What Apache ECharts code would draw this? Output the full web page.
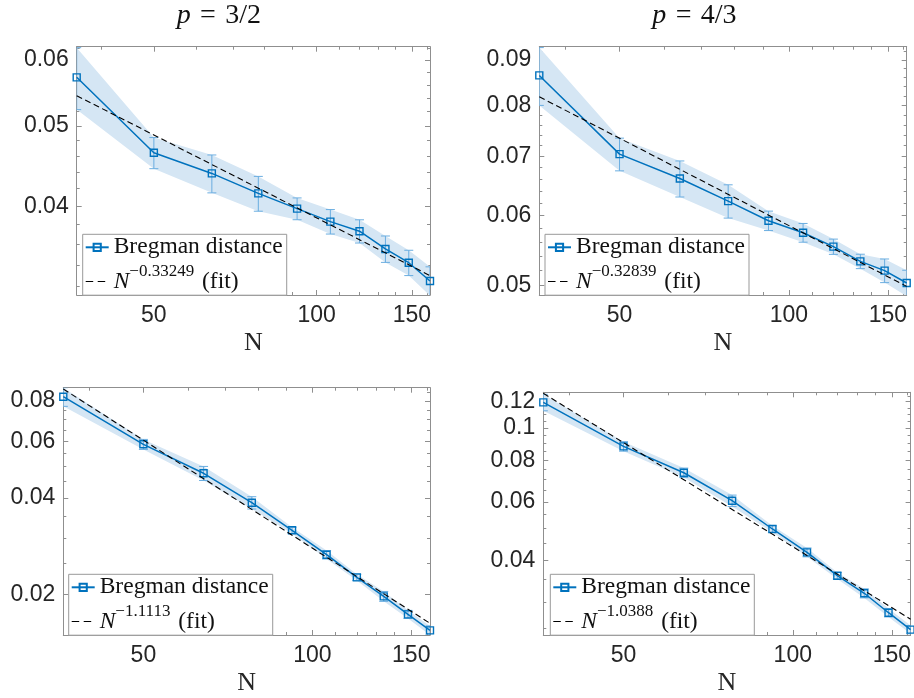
<!DOCTYPE html>
<html><head><meta charset="utf-8">
<script src="https://cdn.jsdelivr.net/npm/echarts@6/dist/echarts.min.js"></script>
<style>html,body{margin:0;padding:0;background:#fff}#c{width:914px;height:698px}</style>
</head><body><div id="c"></div>
<script>
// ---------- data ----------
const N = [36, 50, 64, 78, 92, 106, 120, 134, 148, 162];
const xRange = [36, 162];
const xMajorTicks = [50, 100, 150];
const xMinorTicks = [40, 60, 70, 80, 90, 110, 120, 130, 140, 160];

const titleTL = '3/2';
const titleTR = '4/3';

// top-left  (p = 3/2)
const meanTL = [0.05719, 0.04639, 0.04381, 0.04145, 0.03973, 0.03833, 0.03732, 0.03553, 0.0342, 0.03251];
const errTL  = [0.0049, 0.0020, 0.0023, 0.0020, 0.0012, 0.0013, 0.0012, 0.0013, 0.0012, 0.0013];
const fitTL  = [[36, 0.05435], [162, 0.0330]];
const expTL  = '\u22120.33249';
const yRangeTL = [0.03127, 0.06226];
const yTicksTL = [0.04, 0.05, 0.06];
const yMinorTL = [0.032, 0.034, 0.036, 0.038, 0.042, 0.044, 0.046, 0.048, 0.052, 0.054, 0.056, 0.058, 0.062];

// top-right (p = 4/3)
const meanTR = [0.08648, 0.07044, 0.0661, 0.06233, 0.05922, 0.0574, 0.05535, 0.05327, 0.052, 0.05035];
const errTR  = [0.0065, 0.0030, 0.0031, 0.0027, 0.0015, 0.0014, 0.0011, 0.0010, 0.0016, 0.0017];
const fitTR  = [[36, 0.08179], [162, 0.04991]];
const expTR  = '\u22120.32839';
const yRangeTR = [0.0488, 0.0932];
const yTicksTR = [0.05, 0.06, 0.07, 0.08, 0.09];
const yMinorTR = [0.052, 0.054, 0.056, 0.058, 0.062, 0.064, 0.066, 0.068, 0.072, 0.074, 0.076, 0.078, 0.082, 0.084, 0.086, 0.088, 0.092];

// bottom-left
const meanBL = [0.0825, 0.05868, 0.04769, 0.03863, 0.03171, 0.02663, 0.02265, 0.01977, 0.01738, 0.0155];
const errBL  = [0.0055, 0.0021, 0.0024, 0.0017, 0.0007, 0.0008, 0.0005, 0.0007, 0.0005, 0.0005];
const fitBL  = [[36, 0.08718], [162, 0.0163]];
const expBL  = '\u22121.1113';
const yRangeBL = [0.01499, 0.088];
const yTicksBL = [0.02, 0.04, 0.06, 0.08];
const yMinorBL = [0.015, 0.025, 0.03, 0.035, 0.045, 0.05, 0.055, 0.065, 0.07, 0.075, 0.085];

// bottom-right
const meanBR = [0.1195, 0.0881, 0.07337, 0.06044, 0.04969, 0.04227, 0.03595, 0.03183, 0.02782, 0.02474];
const errBR  = [0.0068, 0.0029, 0.0024, 0.0024, 0.0011, 0.0013, 0.0008, 0.0010, 0.0008, 0.0007];
const fitBR  = [[36, 0.1272], [162, 0.0266]];
const expBR  = '\u22121.0388';
const yRangeBR = [0.02384, 0.1281];
const yTicksBR = [0.04, 0.06, 0.08, 0.1, 0.12];
const yMinorBR = [0.025, 0.03, 0.035, 0.045, 0.05, 0.055, 0.065, 0.07, 0.075, 0.085, 0.09, 0.095, 0.105, 0.11, 0.115, 0.125];

// ---------- layout / style ----------
const BLUE = '#0072BD', BAND = '#d5e6f4', EBAR = '#6aade0', AXIS = '#8f8f8f', TXT = '#262626';
const SANS = 'Liberation Sans', SERIF = 'Liberation Serif';

const panels = [
  {mean: meanTL, err: errTL, fit: fitTL, exp: expTL, yRange: yRangeTL, yTicks: yTicksTL, yMinor: yMinorTL,
   grid: {left: 76.7, top: 46.7, width: 353.3, height: 248.3}, legend: {left: 82.7, top: 234.3}},
  {mean: meanTR, err: errTR, fit: fitTR, exp: expTR, yRange: yRangeTR, yTicks: yTicksTR, yMinor: yMinorTR,
   grid: {left: 539.3, top: 46.7, width: 367.4, height: 248.3}, legend: {left: 545, top: 234.3}},
  {mean: meanBL, err: errBL, fit: fitBL, exp: expBL, yRange: yRangeBL, yTicks: yTicksBL, yMinor: yMinorBL,
   grid: {left: 63.3, top: 387.7, width: 366.7, height: 247.3}, legend: {left: 68.7, top: 574.3}},
  {mean: meanBR, err: errBR, fit: fitBR, exp: expBR, yRange: yRangeBR, yTicks: yTicksBR, yMinor: yMinorBR,
   grid: {left: 543.3, top: 392.3, width: 367.4, height: 242.7}, legend: {left: 550.3, top: 574.3}}
];

function axesFor(gi, isX, range, major, minor, fmt) {
  const lineStyle = {color: AXIS, width: 1};
  const base = {type: 'log', gridIndex: gi, min: range[0], max: range[1],
    splitLine: {show: false}, minorTick: {show: false}, minorSplitLine: {show: false}};
  const posMain = isX ? 'bottom' : 'left', posOpp = isX ? 'top' : 'right';
  const main = Object.assign({}, base, {
    position: posMain,
    axisLine: {show: true, onZero: false, lineStyle},
    axisTick: {show: true, inside: true, length: 5, customValues: major, lineStyle},
    axisLabel: {show: true, customValues: major, formatter: fmt, fontFamily: SANS, fontSize: 23,
      color: TXT, margin: isX ? 9 : 8}
  });
  if (isX) {
    main.name = 'N';
    main.nameLocation = 'middle';
    main.nameGap = 35;
    main.nameTextStyle = {fontFamily: SERIF, fontSize: 26, color: TXT};
  }
  const minorMain = Object.assign({}, base, {position: posMain, axisLine: {show: false},
    axisTick: {show: true, inside: true, length: 3, customValues: minor, lineStyle}, axisLabel: {show: false}});
  const opp = Object.assign({}, base, {position: posOpp, axisLine: {show: true, onZero: false, lineStyle},
    axisTick: {show: true, inside: true, length: 5, customValues: major, lineStyle}, axisLabel: {show: false}});
  const minorOpp = Object.assign({}, base, {position: posOpp, axisLine: {show: false},
    axisTick: {show: true, inside: true, length: 3, customValues: minor, lineStyle}, axisLabel: {show: false}});
  return [main, minorMain, opp, minorOpp];
}

const xFmt = v => String(Math.round(v));
const yFmt = v => String(+(+v).toPrecision(4));

function titleText(x, t) {
  return {type: 'text', x: x, y: 15.5, style: {text: '{i|p}\u2004=\u2004' + t, align: 'left', verticalAlign: 'middle',
    fontFamily: SERIF, fontSize: 28, fill: '#111',
    rich: {i: {fontStyle: 'italic', fontFamily: SERIF, fontSize: 28, fill: '#111'}}}};
}

const option = {
  animation: false,
  backgroundColor: '#fff',
  grid: [], xAxis: [], yAxis: [], series: [], legend: [],
  graphic: [titleText(176.7, titleTL), titleText(652.3, titleTR)]
};

panels.forEach((p, gi) => {
  option.grid.push(Object.assign({containLabel: false}, p.grid));
  option.xAxis.push(...axesFor(gi, true, xRange, xMajorTicks, xMinorTicks, xFmt));
  option.yAxis.push(...axesFor(gi, false, p.yRange, p.yTicks, p.yMinor, yFmt));
  const xi = gi * 4, yi = gi * 4;
  const mean = p.mean, err = p.err;
  const clipOf = cs => ({type: 'rect', shape: {x: cs.x, y: cs.y, width: cs.width, height: cs.height}});
  // shaded band
  option.series.push({
    type: 'custom', xAxisIndex: xi, yAxisIndex: yi, silent: true, z: 1,
    data: N.map((n, i) => [n, mean[i] - err[i], mean[i] + err[i]]),
    renderItem(params, api) {
      if (params.dataIndex !== 0) return {type: 'group', children: []};
      const up = [], lo = [];
      for (let i = 0; i < N.length; i++) {
        up.push(api.coord([N[i], mean[i] + err[i]]));
        lo.push(api.coord([N[i], mean[i] - err[i]]));
      }
      return {type: 'polygon', shape: {points: up.concat(lo.reverse())}, style: {fill: BAND},
        clipPath: clipOf(params.coordSys)};
    }
  });
  // error bars
  option.series.push({
    type: 'custom', xAxisIndex: xi, yAxisIndex: yi, silent: true, z: 2,
    data: N.map((n, i) => [n, mean[i] - err[i], mean[i] + err[i]]),
    renderItem(params, api) {
      const x = api.value(0);
      const a = api.coord([x, api.value(2)]), b = api.coord([x, api.value(1)]);
      const w = 4.5, st = {stroke: EBAR, lineWidth: 1};
      return {type: 'group', clipPath: clipOf(params.coordSys), children: [
        {type: 'line', shape: {x1: a[0], y1: a[1], x2: b[0], y2: b[1]}, style: st},
        {type: 'line', shape: {x1: a[0] - w, y1: a[1], x2: a[0] + w, y2: a[1]}, style: st},
        {type: 'line', shape: {x1: b[0] - w, y1: b[1], x2: b[0] + w, y2: b[1]}, style: st}
      ]};
    }
  });
  // mean line
  option.series.push({
    name: 'Bregman distance', type: 'line', xAxisIndex: xi, yAxisIndex: yi, z: 3,
    data: N.map((n, i) => [n, mean[i]]),
    symbol: 'rect', symbolSize: 7,
    lineStyle: {color: BLUE, width: 1.5},
    itemStyle: {color: 'rgba(0,0,0,0)', borderColor: BLUE, borderWidth: 1.4},
    emphasis: {disabled: true}
  });
  // fit line
  const fitName = 'fit' + gi;
  option.series.push({
    name: fitName, type: 'line', xAxisIndex: xi, yAxisIndex: yi, z: 4,
    data: p.fit, symbol: 'rect', showSymbol: false, symbolSize: 0,
    lineStyle: {color: '#000', width: 1.1, type: [6, 3.5]},
    itemStyle: {color: 'rgba(0,0,0,0)', borderWidth: 0},
    emphasis: {disabled: true}
  });
  option.legend.push({
    data: ['Bregman distance', {name: fitName, lineStyle: {type: [7.5, 4.5], width: 1.1, color: '#000'}}],
    left: p.legend.left, top: p.legend.top,
    orient: 'vertical', itemWidth: 23, itemHeight: 9, itemGap: 3.7,
    padding: [1, 4, 1.7, 2],
    backgroundColor: '#fff', borderColor: '#999', borderWidth: 1, borderRadius: 0,
    selectedMode: false,
    formatter: name => name === 'Bregman distance' ? name : '{i|N}{s|' + p.exp + '}{r|\u2004(fit)}',
    textStyle: {fontFamily: SERIF, fontSize: 23.5, color: '#111', lineHeight: 24,
      rich: {
        i: {fontFamily: SERIF, fontStyle: 'italic', fontSize: 23.5, color: '#111', lineHeight: 24},
        s: {fontFamily: SERIF, fontSize: 17, color: '#111', lineHeight: 24, height: 4, verticalAlign: 'top'},
        r: {fontFamily: SERIF, fontSize: 23.5, color: '#111', lineHeight: 24}
      }}
  });
});

const chart = echarts.init(document.getElementById('c'), null, {renderer: 'canvas'});
chart.setOption(option);
</script>
</body></html>
